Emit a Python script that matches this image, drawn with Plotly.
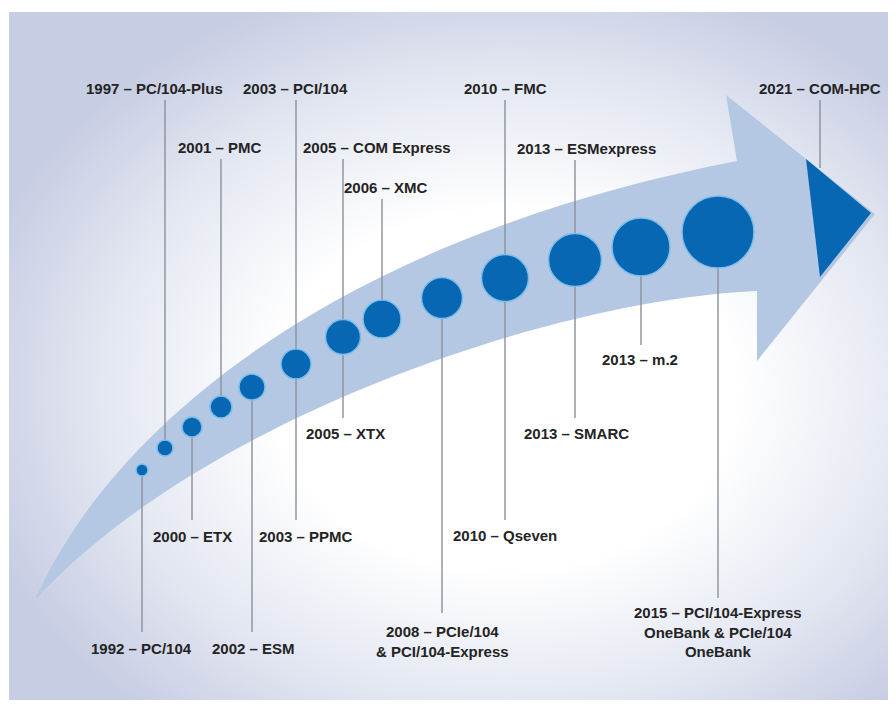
import base64
import plotly.graph_objects as go

# ---- data -----------------------------------------------------------------
# milestones (circles along the arrow), in picture coordinates
circle_x = [142, 165, 192, 221, 252, 296, 343, 382, 442, 505, 575, 641, 718]
circle_y = [470, 448, 427, 407, 387, 364, 337, 319, 298, 278, 260, 247, 232]
circle_d = [12, 16, 20, 22, 26, 30, 35, 38, 41, 47, 53, 58, 72]

label_text = [
    "1992 – PC/104",
    "1997 – PC/104-Plus",
    "2000 – ETX",
    "2001 – PMC",
    "2002 – ESM",
    "2003 – PCI/104",
    "2003 – PPMC",
    "2005 – COM Express",
    "2005 – XTX",
    "2006 – XMC",
    "2008 – PCIe/104<br>& PCI/104-Express",
    "2010 – FMC",
    "2010 – Qseven",
    "2013 – ESMexpress",
    "2013 – SMARC",
    "2013 – m.2",
    "2015 – PCI/104-Express<br>OneBank & PCIe/104<br>OneBank",
    "2021 – COM-HPC",
]
label_x = [141, 154, 192, 220, 253, 295, 306, 377, 345, 386, 442, 505, 505, 586, 576, 640, 718, 820]
label_y = [648, 88, 536, 147, 648, 88, 536, 147, 433, 187, 641, 88, 535, 148, 433, 359, 632, 88]
# leader lines: x, start (at the milestone) and end (at the label)
line_x = [142, 165, 192, 221, 252, 296, 296, 343, 343, 382, 442, 505, 505, 575, 575, 641, 718, 820]
line_y0 = [470, 448, 427, 407, 387, 364, 364, 337, 337, 319, 298, 278, 278, 260, 260, 247, 232, 168]
line_y1 = [632, 100, 520, 159, 632, 100, 520, 159, 418, 199, 613, 100, 520, 160, 418, 345, 598, 100]

# arrow outline (tail, head) and the dark arrow tip
arrow_path = ("M 35,600 C 110,430 330,240 737,161 L 726,95 L 875,214 "
              "L 757,361 L 757,291 C 550,300 200,420 35,600 Z")
tip_path = "M 806,159 L 871,213 L 820,277 Z"

BLUE = "#0867b3"
BAND = "#b5c8e3"
LINE = "#8b9099"
TEXT = "#242424"
W, H = 896, 712
OFF = 8  # the page's own body margin

# ---- background gradient ---------------------------------------------------
svg = f"""<svg xmlns='http://www.w3.org/2000/svg' width='{W-OFF}' height='{H-OFF}'>
<defs><radialGradient id='g' cx='0.56' cy='0.55' r='0.62'>
<stop offset='0' stop-color='#ffffff'/>
<stop offset='0.42' stop-color='#ffffff'/>
<stop offset='0.75' stop-color='#e2e6f1'/>
<stop offset='1' stop-color='#c7cde3'/>
</radialGradient></defs>
<rect x='0' y='0' width='{W}' height='{H}' fill='#ffffff'/>
<rect x='1' y='4' width='{W-OFF-1}' height='688' fill='url(#g)'/>
</svg>"""
bg_uri = "data:image/svg+xml;base64," + base64.b64encode(svg.encode()).decode()

fig = go.Figure()

# leader lines
lx, ly = [], []
for x, a, b in zip(line_x, line_y0, line_y1):
    lx += [x, x, None]
    ly += [a, b, None]
fig.add_trace(go.Scatter(x=lx, y=ly, mode="lines",
                         line=dict(color=LINE, width=1.4),
                         hoverinfo="skip", showlegend=False))

# milestone circles
fig.add_trace(go.Scatter(x=circle_x, y=circle_y, mode="markers",
                         marker=dict(size=circle_d, color=BLUE, opacity=1,
                                     line=dict(color="#7dbdea", width=1.5)),
                         hoverinfo="skip", showlegend=False))

for t, x, y in zip(label_text, label_x, label_y):
    fig.add_annotation(x=x, y=y, text=t, showarrow=False,
                       xanchor="center", yanchor="middle", align="center",
                       font=dict(family="Liberation Sans, Arial, sans-serif",
                                 size=15, color=TEXT, weight="bold"))

fig.add_shape(type="path", path=arrow_path, xref="x", yref="y",
              fillcolor=BAND, line=dict(width=0), layer="below")
fig.add_shape(type="path", path=tip_path, xref="x", yref="y",
              fillcolor=BLUE, line=dict(width=0), layer="below")

fig.add_layout_image(source=bg_uri, xref="paper", yref="paper", x=0, y=1,
                     sizex=1, sizey=1, sizing="stretch", layer="below",
                     xanchor="left", yanchor="top")

fig.update_layout(
    width=W - OFF, height=H - OFF,
    margin=dict(l=0, r=0, t=0, b=0),
    paper_bgcolor="white",
    plot_bgcolor="rgba(0,0,0,0)",
    xaxis=dict(range=[OFF, W], visible=False, fixedrange=True),
    yaxis=dict(range=[H, OFF], visible=False, fixedrange=True),
    showlegend=False,
)

fig.write_html("out.html")
